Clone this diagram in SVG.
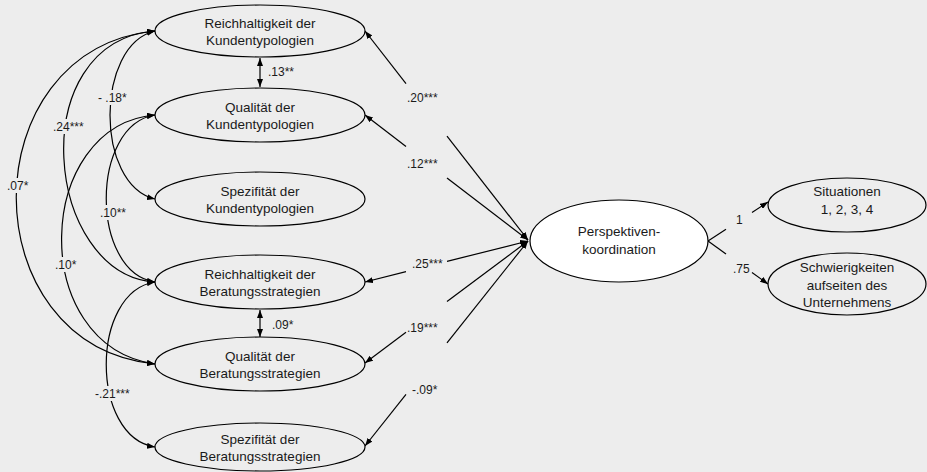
<svg xmlns="http://www.w3.org/2000/svg" width="927" height="472" viewBox="0 0 927 472">
<style>
.bg{fill:#ededed}
.node{fill:#ededed;stroke:#000;stroke-width:1.2}
.nodew{fill:#fff;stroke:#000;stroke-width:1.2}
.t{font-family:"Liberation Sans",Arial,sans-serif;font-size:13.5px;fill:#1a1a1a;text-anchor:middle}
.l{font-family:"Liberation Sans",Arial,sans-serif;font-size:12px;fill:#1a1a1a}
.c{fill:none;stroke:#000;stroke-width:1.2}
.gap{fill:#ededed;stroke:none}
</style>
<defs>
<marker id="ah" viewBox="0 0 8 6" refX="8" refY="3" markerWidth="8" markerHeight="6" markerUnits="userSpaceOnUse" orient="auto-start-reverse">
<path d="M0,0 L8,3 L0,6 z" fill="#000"/>
</marker>
</defs>
<rect class="bg" x="0" y="0" width="927" height="472"/>

<g id="connectors">
<path class="c" d="M155,31 C-30,50 -30,345 155,364" marker-start="url(#ah)" marker-end="url(#ah)"/>
<path class="c" d="M155,31 C22,42 45,275 155,282" marker-start="url(#ah)" marker-end="url(#ah)"/>
<path class="c" d="M155,31 C95,45 95,185 155,199" marker-start="url(#ah)" marker-end="url(#ah)"/>
<path class="c" d="M155,115 C35,125 26,345 155,364" marker-start="url(#ah)" marker-end="url(#ah)"/>
<path class="c" d="M155,115 C90,125 90,272 155,282" marker-start="url(#ah)" marker-end="url(#ah)"/>
<path class="c" d="M155,282 C90,292 90,437 155,447" marker-start="url(#ah)" marker-end="url(#ah)"/>
<line class="c" x1="260" y1="58" x2="260" y2="87" marker-start="url(#ah)" marker-end="url(#ah)"/>
<line class="c" x1="260" y1="310" x2="260" y2="337" marker-start="url(#ah)" marker-end="url(#ah)"/>
<line class="c" x1="406" y1="83.6" x2="365" y2="31" marker-end="url(#ah)"/>
<line class="c" x1="447" y1="136.1" x2="528" y2="240" marker-end="url(#ah)"/>
<line class="c" x1="406" y1="146.4" x2="365" y2="115" marker-end="url(#ah)"/>
<line class="c" x1="447" y1="177.9" x2="528" y2="240" marker-end="url(#ah)"/>
<line class="c" x1="406" y1="271.7" x2="365" y2="282" marker-end="url(#ah)"/>
<line class="c" x1="447" y1="261.4" x2="528" y2="241" marker-end="url(#ah)"/>
<line class="c" x1="406" y1="332.3" x2="365" y2="363" marker-end="url(#ah)"/>
<line class="c" x1="447" y1="301.6" x2="528" y2="241" marker-end="url(#ah)"/>
<line class="c" x1="406" y1="394.4" x2="365" y2="446" marker-end="url(#ah)"/>
<line class="c" x1="447" y1="342.9" x2="528" y2="241" marker-end="url(#ah)"/>
<line class="c" x1="708" y1="241" x2="726" y2="229.3"/>
<line class="c" x1="752" y1="212.4" x2="768" y2="202" marker-end="url(#ah)"/>
<line class="c" x1="708" y1="241" x2="726" y2="253.9"/>
<line class="c" x1="752" y1="272.5" x2="768" y2="284" marker-end="url(#ah)"/>

<rect class="gap" x="6" y="178" width="24" height="15"/>
<text class="l" x="7" y="190">.07*</text>
<rect class="gap" x="52" y="119" width="33" height="15"/>
<text class="l" x="53" y="131">.24***</text>
<rect class="gap" x="97" y="90" width="33" height="15"/>
<text class="l" x="98" y="102">- .18*</text>
<rect class="gap" x="99" y="205" width="31" height="15"/>
<text class="l" x="100" y="217">.10**</text>
<rect class="gap" x="54" y="257" width="27" height="15"/>
<text class="l" x="55" y="269">.10*</text>
<rect class="gap" x="94" y="386" width="42" height="15"/>
<text class="l" x="95" y="398">-.21***</text>
<text class="l" x="268" y="76">.13**</text>
<text class="l" x="272" y="329">.09*</text>
<text class="l" x="407" y="102">.20***</text>
<text class="l" x="407" y="168">.12***</text>
<text class="l" x="412" y="268">.25***</text>
<text class="l" x="407" y="332">.19***</text>
<text class="l" x="412" y="394">-.09*</text>
<text class="l" x="736" y="224">1</text>
<text class="l" x="733" y="273">.75</text>
</g>

<g id="reich-kunden">
<ellipse class="node" cx="260" cy="31" rx="105" ry="26"/>
<text class="t" x="260" y="28">Reichhaltigkeit der</text>
<text class="t" x="260" y="45">Kundentypologien</text>
</g>
<g id="qual-kunden">
<ellipse class="node" cx="260" cy="115" rx="105" ry="27"/>
<text class="t" x="260" y="112">Qualität der</text>
<text class="t" x="260" y="129">Kundentypologien</text>
</g>
<g id="spez-kunden">
<ellipse class="node" cx="260" cy="199" rx="105" ry="27"/>
<text class="t" x="260" y="196">Spezifität der</text>
<text class="t" x="260" y="213">Kundentypologien</text>
</g>
<g id="reich-beratung">
<ellipse class="node" cx="260" cy="282" rx="105" ry="27"/>
<text class="t" x="260" y="279">Reichhaltigkeit der</text>
<text class="t" x="260" y="296">Beratungsstrategien</text>
</g>
<g id="qual-beratung">
<ellipse class="node" cx="260" cy="364" rx="105" ry="27"/>
<text class="t" x="260" y="361">Qualität der</text>
<text class="t" x="260" y="378">Beratungsstrategien</text>
</g>
<g id="spez-beratung">
<ellipse class="node" cx="260" cy="447" rx="105" ry="24"/>
<text class="t" x="260" y="444">Spezifität der</text>
<text class="t" x="260" y="461">Beratungsstrategien</text>
</g>
<g id="perspektiven">
<ellipse class="nodew" cx="619" cy="241" rx="89" ry="41"/>
<text class="t" x="619" y="236">Perspektiven-</text>
<text class="t" x="619" y="254">koordination</text>
</g>
<g id="situationen">
<ellipse class="node" cx="847" cy="205" rx="79" ry="27"/>
<text class="t" x="847" y="196">Situationen</text>
<text class="t" x="847" y="214">1, 2, 3, 4</text>
</g>
<g id="schwierigkeiten">
<ellipse class="node" cx="847" cy="284" rx="79" ry="31"/>
<text class="t" x="847" y="272">Schwierigkeiten</text>
<text class="t" x="847" y="290">aufseiten des</text>
<text class="t" x="847" y="307">Unternehmens</text>
</g>
</svg>
